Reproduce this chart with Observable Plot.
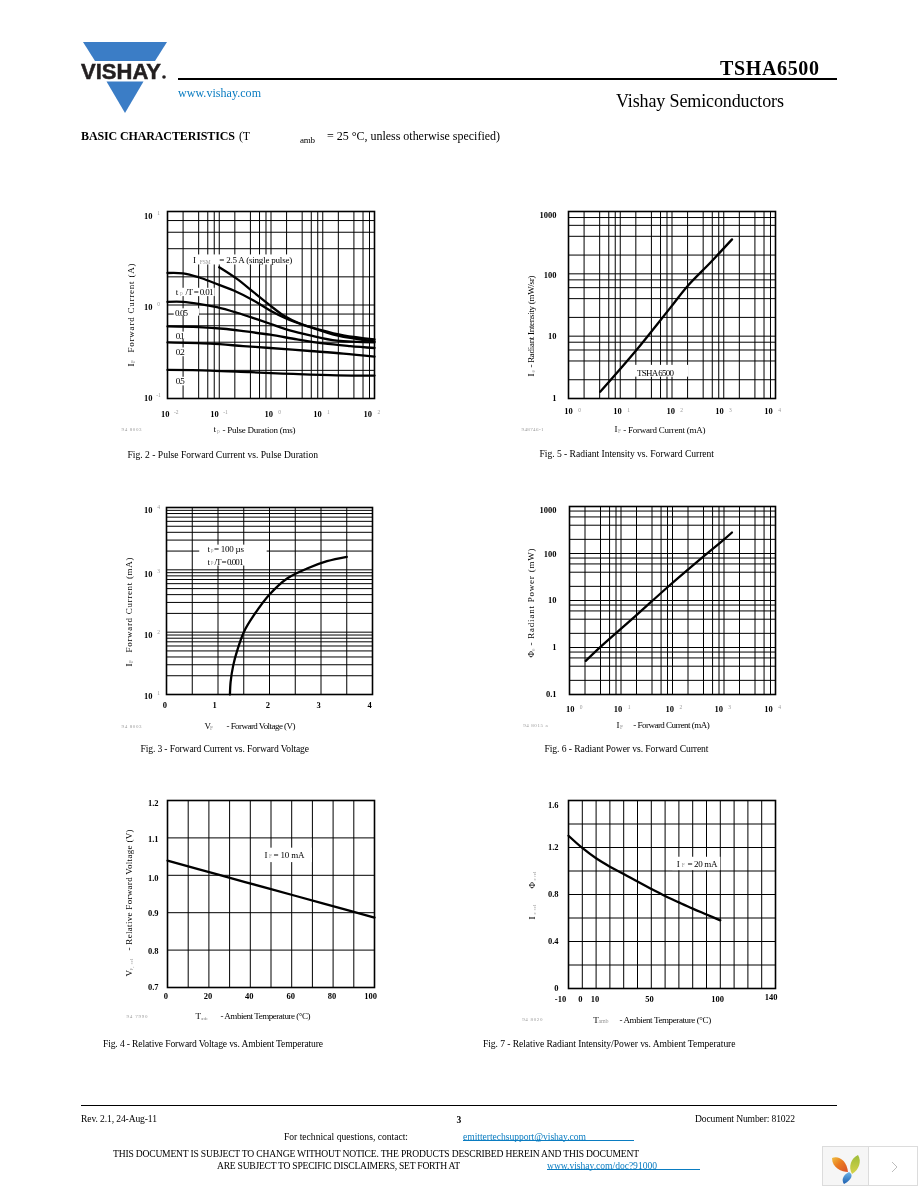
<!DOCTYPE html>
<html>
<head>
<meta charset="utf-8">
<script src="https://cdn.jsdelivr.net/npm/d3@7"></script>
<script src="https://cdn.jsdelivr.net/npm/@observablehq/plot@0.6"></script>
<style>
html,body{margin:0;padding:0;background:#fff}
#page{position:relative;width:918px;height:1188px;overflow:hidden;font-family:"Liberation Serif",serif;color:#000;will-change:transform}
#page svg{position:absolute;overflow:visible}
.t{position:absolute;white-space:nowrap;line-height:1}
.rule{position:absolute;background:#000}
</style>
</head>
<body>
<div id="page"></div>
<script>
// ---------- Fig. 2 : pulse forward current vs pulse duration ----------
const fig2XTicks = [0.01, 0.1, 1, 10, 100];
const fig2YTicks = [0.1, 1, 10];
const fig2SingleX = [0.1, 0.22, 0.46, 0.96, 1.75, 3.7, 8.9, 25, 100];
const fig2SingleY = [2.53, 1.9, 1.37, 0.99, 0.773, 0.63, 0.543, 0.473, 0.429];
const fig2D001X = [0.01, 0.02, 0.04, 0.08, 0.19, 0.46, 0.96, 2, 5.7, 18.7, 100];
const fig2D001Y = [2.2, 2.18, 1.98, 1.72, 1.43, 1.12, 0.873, 0.713, 0.58, 0.473, 0.408];
const fig2D005X = [0.01, 0.02, 0.04, 0.09, 0.22, 0.46, 0.96, 2.3, 5.7, 18.7, 100];
const fig2D005Y = [1.08, 1.08, 1.03, 0.948, 0.826, 0.724, 0.63, 0.535, 0.473, 0.415, 0.398];
const fig2D01X = [0.01, 0.04, 0.12, 0.29, 0.96, 3.2, 10.3, 34, 100];
const fig2D01Y = [0.59, 0.58, 0.557, 0.526, 0.481, 0.429, 0.389, 0.364, 0.347];
const fig2D02X = [0.01, 0.0667, 0.29, 0.96, 5.7, 25, 100];
const fig2D02Y = [0.398, 0.386, 0.364, 0.347, 0.322, 0.302, 0.28];
const fig2D05X = [0.01, 0.0667, 0.4, 2.7, 18.7, 100];
const fig2D05Y = [0.202, 0.199, 0.191, 0.183, 0.177, 0.176];

// ---------- Fig. 5 : radiant intensity vs forward current ----------
const fig5XTicks = [1, 10, 100, 1000, 10000];
const fig5YTicks = [1, 10, 100, 1000];
const fig5X = [4.1, 20, 94, 197, 554, 1445];
const fig5Y = [1.28, 5.83, 29, 62.8, 152, 357];

// ---------- Fig. 3 : forward current vs forward voltage ----------
const fig3XTicks = [0, 1, 2, 3, 4];
const fig3YTicks = [10, 100, 1000, 10000];
const fig3X = [1.232, 1.245, 1.297, 1.374, 1.503, 1.697, 2, 2.342, 2.73, 3.116, 3.5];
const fig3Y = [10, 16, 29.6, 51, 101, 187, 402, 726, 1050, 1377, 1618];

// ---------- Fig. 6 : radiant power vs forward current ----------
const fig6XTicks = [1, 10, 100, 1000, 10000];
const fig6YTicks = [0.1, 1, 10, 100, 1000];
const fig6X = [2.07, 4, 19, 79, 347, 980, 1428];
const fig6Y = [0.52, 1.03, 4.64, 18.9, 75.7, 195, 280];

// ---------- Fig. 4 : relative forward voltage vs ambient temperature ----------
const fig4XTicks = [0, 20, 40, 60, 80, 100];
const fig4YTicks = [0.7, 0.8, 0.9, 1.0, 1.1, 1.2];
const fig4X = [0, 25, 50, 75, 100];
const fig4Y = [1.039, 1.001, 0.963, 0.925, 0.887];

// ---------- Fig. 7 : relative radiant intensity/power vs ambient temperature ----------
const fig7XTicks = [-10, 0, 10, 50, 100, 140];
const fig7YTicks = [0, 0.4, 0.8, 1.2, 1.6];
const fig7X = [-10, 0, 10, 20, 30, 40, 50, 60, 70, 80, 90, 100];
const fig7Y = [1.3, 1.196, 1.108, 1.037, 0.975, 0.91, 0.847, 0.787, 0.733, 0.68, 0.63, 0.58];

const SERIF = '"Liberation Serif", serif';
const PALE = "#9a9a9a";
const page = document.getElementById("page");
const zip = (xs, ys) => xs.map((x, i) => ({x, y: ys[i]}));
const logGrid = (lo, hi, mults) => {
  const out = [];
  for (let d = lo; d < hi * 0.99; d *= 10) for (const m of mults) out.push(d * m);
  out.push(hi);
  return out;
};
const linGrid = (lo, hi, step) => d3.range(lo, hi + step / 2, step);
const M246 = [1, 2, 4, 6, 8];
const M19 = [1, 2, 3, 4, 5, 6, 7, 8, 9];

// Place a text piece on a known span, in frame-relative pixels, through a Plot text mark
const fitRender = len => len == null ? undefined : (i, s, v, d, c, next) => {
  const g = next(i, s, v, d, c);
  g.querySelectorAll("text").forEach(t => t.setAttribute("textLength", len));
  return g;
};
function pieceH(F, str, x1, x2, cy, o = {}) {
  return Plot.text([str], {
    text: d => d, frameAnchor: "top-left", textAnchor: "start", lineAnchor: "middle",
    dx: x1 - F.l, dy: cy - F.t, fontSize: o.size ?? 9, fontWeight: o.weight ?? "normal",
    fill: o.fill ?? "#000", fontFamily: SERIF, render: fitRender(x2 - x1)
  });
}
function pieceV(F, str, y1, y2, cx, o = {}) { // y1 lower end (start), y2 upper end
  return Plot.text([str], {
    text: d => d, frameAnchor: "top-left", textAnchor: "start", lineAnchor: "middle", rotate: -90,
    dx: cx - F.l, dy: y1 - F.t, fontSize: o.size ?? 9, fontWeight: o.weight ?? "normal",
    fill: o.fill ?? "#000", fontFamily: SERIF, render: fitRender(y1 - y2)
  });
}
const note = (str, x, y, len, o = {}) => Plot.text([str], {
  text: d => d, x: () => x, y: () => y, textAnchor: o.anchor ?? "start", lineAnchor: "middle",
  dy: o.dy ?? 0, fontSize: o.size ?? 9, fontWeight: o.weight ?? "normal", fill: o.fill ?? "#000",
  fontFamily: SERIF, render: fitRender(len)
});
const whiteBox = ([x1, x2, y1, y2]) => Plot.rect([0], {
  x1: () => x1, x2: () => x2, y1: () => y1, y2: () => y2, fill: "#fff", inset: 0
});

function chart(F, c) {
  const ml = 62, mr = 18, mt = 14, mb = 52;
  const xTick = c.xTicks.flatMap((t, i) => {
    const dx = (c.xDx && c.xDx[i]) ?? 0;
    const marks = [Plot.axisX([t], {
      tickSize: 0, tickPadding: ((c.xOff && c.xOff[i]) ?? c.xPad) - 5, dx, label: null,
      tickFormat: c.xExp ? () => "10" : d => String(d),
      fontSize: 8.5, fontWeight: "bold", fontFamily: SERIF, fill: "#000"
    })];
    if (c.xExp) marks.push(Plot.text([t], {
      x: d => d, frameAnchor: "bottom", lineAnchor: "middle", textAnchor: "middle",
      dx: dx + 11, dy: c.xPad - 3, text: d => String(Math.round(Math.log10(d))),
      fontSize: 5.5, fill: PALE, fontFamily: SERIF
    }));
    return marks;
  });
  const yTick = c.yTicks.flatMap((t, i) => {
    const dy = (c.yDy && c.yDy[i]) ?? 0;
    const marks = [Plot.axisY([t], {
      tickSize: 0, tickPadding: c.yPad, dy, label: null,
      tickFormat: c.yExp ? () => "10" : d => c.yFmt ? c.yFmt(d) : String(d),
      fontSize: 8.5, fontWeight: "bold", fontFamily: SERIF, fill: "#000"
    })];
    if (c.yExp) marks.push(Plot.text([t], {
      y: d => d, frameAnchor: "left", textAnchor: "middle", lineAnchor: "middle",
      dx: -c.yPad + 6, dy: dy - 3, text: d => String(Math.round(Math.log10(d))),
      fontSize: 5.5, fill: PALE, fontFamily: SERIF
    }));
    return marks;
  });
  const svg = Plot.plot({
    width: F.w + ml + mr, height: F.h + mt + mb,
    marginLeft: ml, marginRight: mr, marginTop: mt, marginBottom: mb,
    style: {background: "transparent", fontFamily: SERIF, overflow: "visible"},
    x: {type: c.xType ?? "linear", domain: c.xDomain, axis: null},
    y: {type: c.yType ?? "linear", domain: c.yDomain, axis: null},
    marks: [
      Plot.ruleX(c.xGrid, {stroke: "#000", strokeWidth: 1}),
      Plot.ruleY(c.yGrid, {stroke: "#000", strokeWidth: 1}),
      (c.boxes ?? []).map(whiteBox),
      c.curves.map(r => Plot.line(r, {x: "x", y: "y", curve: "catmull-rom", stroke: "#000", strokeWidth: 2.3})),
      Plot.frame({stroke: "#000", strokeWidth: 1.6}),
      xTick, yTick, c.notes ?? [], c.titles(F)
    ]
  });
  svg.style.left = (F.l - ml) + "px";
  svg.style.top = (F.t - mt) + "px";
  page.appendChild(svg);
}

// Full-page text: fixed span on the page, with spacing adjusted to the span
function put(str, x1, x2, cy, o = {}) {
  const s = document.createElement("div");
  s.className = "t";
  s.textContent = str;
  s.style.fontSize = (o.size ?? 9.6) + "px";
  if (o.weight) s.style.fontWeight = o.weight;
  s.style.color = o.color ?? "#000";
  page.appendChild(s);
  const w = s.getBoundingClientRect().width;
  const sp = (x2 - x1 - w) / Math.max(1, str.length - 1);
  s.style.letterSpacing = sp + "px";
  s.style.left = x1 + "px";
  s.style.top = (cy - (o.size ?? 9.6) / 2) + "px";
}
function rule(x1, x2, y, h, color) {
  const r = document.createElement("div");
  r.className = "rule";
  r.style.cssText = `left:${x1}px;width:${x2 - x1}px;top:${y}px;height:${h}px;background:${color ?? "#000"}`;
  page.appendChild(r);
}

// ---------- header ----------
page.insertAdjacentHTML("beforeend", `
<svg style="left:0;top:0" width="918" height="130" viewBox="0 0 918 130">
  <polygon points="83,42 167,42 155,61 95,61" fill="#3b7dc6"/>
  <polygon points="106.5,81.5 143.5,81.5 125,113" fill="#3b7dc6"/>
  <text x="81" y="78.7" font-family="Liberation Sans" font-weight="bold" font-size="22" textLength="80" lengthAdjust="spacingAndGlyphs" fill="#231f20" stroke="#231f20" stroke-width="0.5">VISHAY</text>
  <circle cx="164" cy="77" r="1.8" fill="#231f20"/>
</svg>`);
rule(178, 837, 78, 2);
put("www.vishay.com", 178, 261, 92.5, {size: 12, color: "#0a7cc1"});
put("TSHA6500", 720, 819, 68, {size: 20, weight: "bold"});
put("Vishay Semiconductors", 616, 784, 100.5, {size: 18});
put("BASIC CHARACTERISTICS", 81, 235, 135.5, {size: 12, weight: "bold"});
put("(T", 239, 250, 135.5, {size: 12});
put("amb", 300, 315, 140.5, {size: 9});
put("= 25 °C, unless otherwise specified)", 327, 500, 135.5, {size: 12});

// ---------- figures ----------
chart({l: 167, t: 211, w: 207, h: 187}, {
  xType: "log", yType: "log", xDomain: [0.01, 100], yDomain: [0.1, 10],
  xGrid: logGrid(0.01, 100, M246), yGrid: logGrid(0.1, 10, M246),
  xTicks: fig2XTicks, yTicks: fig2YTicks, xExp: true, yExp: true,
  xPad: 17, xDx: [-2.3, -4.7, -2.3, -5.3, -6.7], yPad: 15, yDy: [0, 2.3, 5],
  curves: [zip(fig2SingleX, fig2SingleY), zip(fig2D001X, fig2D001Y), zip(fig2D005X, fig2D005Y),
           zip(fig2D01X, fig2D01Y), zip(fig2D02X, fig2D02Y), zip(fig2D05X, fig2D05Y)],
  boxes: [[0.0266, 2.93, 2.68, 3.43], [0.0135, 0.0834, 1.23, 1.51], [0.0135, 0.0415, 0.76, 0.91],
          [0.0135, 0.023, 0.428, 0.513], [0.0135, 0.023, 0.28, 0.347], [0.0135, 0.023, 0.1365, 0.1686]],
  notes: [
    note("I", 0.031, 3.0, 3), note("FSM", 0.042, 2.9, 11, {size: 5.5, fill: PALE}),
    note("= 2.5 A (single pulse)", 0.1, 3.0, 73),
    note("t", 0.0145, 1.37, 3), note("p", 0.0175, 1.33, 4, {size: 5.5, fill: PALE}),
    note("/T = 0.01", 0.0223, 1.37, 28),
    note("0.05", 0.014, 0.826, 13), note("0.1", 0.0145, 0.47, 9),
    note("0.2", 0.0145, 0.314, 9), note("0.5", 0.0145, 0.153, 9)
  ],
  titles: F => [
    pieceH(F, "94 8003", 121, 141, 429, {size: 5, fill: PALE}),
    pieceH(F, "t", 213, 216, 429), pieceH(F, "p", 216.5, 219.5, 431, {size: 5.5, fill: PALE}),
    pieceH(F, "- Pulse Duration (ms)", 222, 295, 429.3),
    pieceV(F, "I", 366, 363, 131), pieceV(F, "F", 362.5, 359.5, 133, {size: 5.5, fill: PALE}),
    pieceV(F, "Forward Current (A)", 352, 263, 131)
  ]
});
put("Fig. 2 - Pulse Forward Current vs. Pulse Duration", 127.5, 318, 455);

chart({l: 568, t: 211, w: 207, h: 187}, {
  xType: "log", yType: "log", xDomain: [1, 10000], yDomain: [1, 1000],
  xGrid: logGrid(1, 10000, M246), yGrid: logGrid(1, 1000, M246),
  xTicks: fig5XTicks, yTicks: fig5YTicks, xExp: true, yPad: 12, yDy: [0, 0, 1, 4],
  xPad: 14.5, xDx: [0, -2.7, -1.3, -4.3, -7],
  curves: [zip(fig5X, fig5Y)],
  boxes: [[17.3, 212, 2.2, 3.4]],
  notes: [note("TSHA 6500", 48, 2.6, 37, {anchor: "middle"})],
  titles: F => [
    pieceH(F, "948746-1", 521, 543, 429, {size: 5, fill: PALE}),
    pieceH(F, "I", 614, 617, 429), pieceH(F, "F", 617.5, 620.5, 431, {size: 5.5, fill: PALE}),
    pieceH(F, "- Forward Current (mA)", 622.7, 705, 429.3),
    pieceV(F, "I", 376, 373, 531), pieceV(F, "e", 372, 369.5, 533, {size: 5.5, fill: PALE}),
    pieceV(F, "- Radiant Intensity (mW/sr)", 367, 275, 531)
  ]
});
put("Fig. 5 - Radiant Intensity vs. Forward Current", 539.5, 714, 453.5);

chart({l: 166, t: 507, w: 206, h: 187}, {
  yType: "log", xDomain: [0, 4], yDomain: [10, 10000],
  xGrid: linGrid(0, 4, 0.5), yGrid: logGrid(10, 10000, M19),
  xTicks: fig3XTicks, yTicks: fig3YTicks, yExp: true,
  xPad: 12, xDx: [-1.7, -3.3, -1.7, -2.3, -3], yPad: 14, yDy: [2, 3.3, 4.7, 2.3],
  curves: [zip(fig3X, fig3Y)],
  boxes: [[0.645, 1.955, 1150, 2490]],
  notes: [
    note("t", 0.794, 2118, 3), note("p", 0.86, 2050, 3, {size: 5.5, fill: PALE}),
    note("= 100 µs", 0.923, 2118, 30),
    note("t", 0.794, 1343, 3), note("p", 0.86, 1300, 3, {size: 5.5, fill: PALE}),
    note("/T = 0.001", 0.93, 1343, 29)
  ],
  titles: F => [
    pieceH(F, "94 8003", 121, 141, 726, {size: 5, fill: PALE}),
    pieceH(F, "V", 204, 209, 725.7), pieceH(F, "F", 209.5, 213, 727.5, {size: 5.5, fill: PALE}),
    pieceH(F, "- Forward Voltage (V)", 226, 295, 725.7),
    pieceV(F, "I", 666, 663, 129), pieceV(F, "F", 662.5, 659.5, 131, {size: 5.5, fill: PALE}),
    pieceV(F, "Forward Current (mA)", 652, 557, 129)
  ]
});
put("Fig. 3 - Forward Current vs. Forward Voltage", 140.5, 309, 749);

chart({l: 569, t: 506, w: 206, h: 188}, {
  xType: "log", yType: "log", xDomain: [1, 10000], yDomain: [0.1, 1000],
  xGrid: logGrid(1, 10000, M246), yGrid: logGrid(0.1, 1000, M246),
  xTicks: fig6XTicks, yTicks: fig6YTicks, xExp: true, yPad: 13, yDy: [0, 0, 0, 1, 4],
  yFmt: d => d === 0.1 ? "0.1" : String(d),
  xPad: 16, xDx: [0.7, -3, -2.7, -5.3, -7],
  curves: [zip(fig6X, fig6Y)],
  titles: F => [
    pieceH(F, "94 8015 a", 522.7, 547.3, 725, {size: 5, fill: PALE}),
    pieceH(F, "I", 616, 619, 725), pieceH(F, "F", 619.5, 622.5, 727, {size: 5.5, fill: PALE}),
    pieceH(F, "- Forward Current (mA)", 632.7, 709.3, 725),
    pieceV(F, "Φ", 657, 651, 531), pieceV(F, "e", 650.5, 648, 533, {size: 5.5, fill: PALE}),
    pieceV(F, "- Radiant Power (mW)", 645, 548, 531)
  ]
});
put("Fig. 6 - Radiant Power vs. Forward Current", 544.5, 708.5, 749);

chart({l: 167, t: 800, w: 207, h: 187}, {
  xDomain: [0, 100], yDomain: [0.7, 1.2],
  xGrid: linGrid(0, 100, 10), yGrid: linGrid(0.7, 1.2, 0.1),
  xTicks: fig4XTicks, yTicks: fig4YTicks,
  xPad: 10.6, xDx: [-1.7, -1, -1, -1, -1, -4],
  yPad: 9, yDy: [0, 1.3, 0.7, 2.7, 1.7, 3], yFmt: d => d.toFixed(1),
  curves: [zip(fig4X, fig4Y)],
  boxes: [[45.1, 70, 1.034, 1.0725]],
  notes: [
    note("I", 46.9, 1.054, 3), note("F", 49, 1.05, 3, {size: 5.5, fill: PALE}),
    note("= 10 mA", 51.2, 1.054, 31)
  ],
  titles: F => [
    pieceH(F, "94 7990", 126, 147, 1016, {size: 5, fill: PALE}),
    pieceH(F, "T", 195, 200, 1016), pieceH(F, "amb", 200.5, 207, 1018, {size: 5, fill: PALE}),
    pieceH(F, "- Ambient Temperature (°C)", 220, 310, 1016),
    pieceV(F, "V", 976, 971, 129), pieceV(F, "F, rel", 970, 958, 131, {size: 5, fill: PALE}),
    pieceV(F, "- Relative Forward Voltage (V)", 950, 829, 129)
  ]
});
put("Fig. 4 - Relative Forward Voltage vs. Ambient Temperature", 103, 323, 1043.5);

chart({l: 568, t: 800, w: 207, h: 188}, {
  xDomain: [-10, 140], yDomain: [0, 1.6],
  xGrid: linGrid(-10, 140, 10), yGrid: linGrid(0, 1.6, 0.2),
  xTicks: fig7XTicks, yTicks: fig7YTicks,
  xPad: 12, xOff: [12, 12, 12, 12, 12, 10.5], xDx: [-8, -2, -1, -1.7, -2.7, -4.3],
  yPad: 10, yDy: [0, 0, 0, 0, 4.7],
  curves: [zip(fig7X, fig7Y)],
  boxes: [[65.6, 100.4, 1.003, 1.117]],
  notes: [
    note("I", 68.5, 1.06, 3), note("F", 72, 1.045, 3, {size: 5.5, fill: PALE}),
    note("= 20 mA", 76.2, 1.06, 30)
  ],
  titles: F => [
    pieceH(F, "94 8020", 521.7, 542, 1019, {size: 5, fill: PALE}),
    pieceH(F, "T", 592.7, 597.5, 1019.3), pieceH(F, "amb", 598, 608, 1020.5, {size: 6, fill: PALE}),
    pieceH(F, "- Ambient Temperature (°C)", 619, 710.7, 1019.3),
    pieceV(F, "I", 919, 916, 532), pieceV(F, "e rel", 914, 904, 534, {size: 5, fill: PALE}),
    pieceV(F, "Φ", 888, 882, 532), pieceV(F, "e rel", 880, 871, 534, {size: 5, fill: PALE})
  ]
});
put("Fig. 7 - Relative Radiant Intensity/Power vs. Ambient Temperature", 483, 735.5, 1043.5);

// ---------- footer ----------
rule(81, 837, 1105, 1);
put("Rev. 2.1, 24-Aug-11", 81, 157, 1119);
put("3", 456.5, 460, 1120, {weight: "bold"});
put("Document Number: 81022", 695, 795, 1119);
put("For technical questions, contact:", 284, 408, 1137);
put("emittertechsupport@vishay.com", 463, 586, 1137, {color: "#0a7cc1"});
rule(463, 634, 1139.5, 1, "#0a7cc1");
put("THIS DOCUMENT IS SUBJECT TO CHANGE WITHOUT NOTICE. THE PRODUCTS DESCRIBED HEREIN AND THIS DOCUMENT", 113, 639, 1154);
put("ARE SUBJECT TO SPECIFIC DISCLAIMERS, SET FORTH AT", 217, 460, 1166);
put("www.vishay.com/doc?91000", 547, 657, 1166, {color: "#0a7cc1"});
rule(547, 700, 1168.5, 1, "#0a7cc1");

// ---------- viewer badge, bottom right ----------
page.insertAdjacentHTML("beforeend", `
<svg style="left:818px;top:1130px" width="100" height="58" viewBox="0 0 100 58">
  <defs>
    <linearGradient id="o" x1="0" y1="0" x2="1" y2="1"><stop offset="0" stop-color="#f0c040"/><stop offset="0.45" stop-color="#ea7a20"/><stop offset="1" stop-color="#d8502a"/></linearGradient>
    <linearGradient id="g" x1="0" y1="0" x2="0" y2="1"><stop offset="0" stop-color="#9ebd3a"/><stop offset="1" stop-color="#d6d24a"/></linearGradient>
    <linearGradient id="b" x1="0" y1="0" x2="0" y2="1"><stop offset="0" stop-color="#6fb6e8"/><stop offset="1" stop-color="#1c5fb0"/></linearGradient>
  </defs>
  <rect x="4.5" y="16.5" width="95" height="39" fill="#fff" stroke="#dcdcdc"/>
  <rect x="5" y="17" width="45" height="38" fill="#f6f6f6"/>
  <line x1="50.5" y1="16" x2="50.5" y2="56" stroke="#dcdcdc"/>
  <path d="M14 28 C20 25 29 30 30 42 C24 42 14 38 14 28Z" fill="url(#o)"/>
  <path d="M40 25 C44 31 41 40 34 44 C30 37 33 28 40 25Z" fill="url(#g)"/>
  <path d="M31 42 C35 44 35 49 26 54 C23 50 25 45 31 42Z" fill="url(#b)"/>
  <path d="M74 32 L79 37 L74 42" fill="none" stroke="#bdbdbd" stroke-width="1"/>
</svg>`);
</script>
</body>
</html>
